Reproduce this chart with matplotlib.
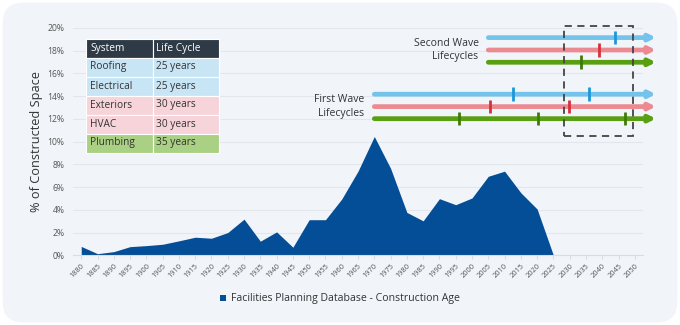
import matplotlib.pyplot as plt
import numpy as np
from matplotlib.patches import FancyBboxPatch, Rectangle

plt.rcParams['font.family'] = ['Open Sans', 'DejaVu Sans']

# construction age (% of constructed space per 5-year bucket)
years = list(range(1880, 2030, 5))
share = [0.78, 0.14, 0.32, 0.76, 0.85, 0.97, 1.27, 1.59, 1.5, 2.0,
         3.18, 1.24, 2.06, 0.71, 3.13, 3.13, 4.95, 7.4, 10.45, 7.65,
         3.77, 3.03, 4.98, 4.45, 5.04, 6.95, 7.4, 5.5, 4.07, 0.0]
tick_years = list(range(1880, 2055, 5))

# lifecycle arrows: start year, level (%), marker years
wave_names = ["Second Wave\nLifecycles", "First Wave\nLifecycles"]
wave_start = [2005, 1970]
wave_end = 2056.5
wave_levels = [[19.15, 18.06, 16.98], [14.17, 13.08, 12.02]]
wave_marks = [
    [[2044], [2039], [2033.5]],
    [[2012.5, 2036], [2005.5, 2029.7], [1996, 2020.4, 2047]],
]
line_colors = ["#74c3ec", "#eb8a91", "#58a011"]
mark_colors = ["#1c98d8", "#d6303b", "#3f7a08"]
box_x = [2028.4, 2049.3]
box_y = [10.5, 20.2]

# table
table_rows = [["System", "Life Cycle"],
              ["Roofing", "25 years"],
              ["Electrical", "25 years"],
              ["Exteriors", "30 years"],
              ["HVAC", "30 years"],
              ["Plumbing", "35 years"]]
row_colors = ["#2e3b46", "#c8e5f5", "#c8e5f5", "#f6d4d9", "#f6d4d9", "#a9d083"]

fig = plt.figure(figsize=(6.8, 3.25), dpi=100, facecolor="white")
fig.patches.append(FancyBboxPatch((0.004, 0.008), 0.992, 0.984,
                                  boxstyle="round,pad=0,rounding_size=0.03",
                                  transform=fig.transFigure, fc="#f1f4f9", ec="none",
                                  mutation_aspect=680 / 325, zorder=-5))

ax = fig.add_axes([0.107, 0.2145, 0.839, 0.6995])
ax.set_facecolor("none")
ax.fill_between(years, share, 0, color="#034e96", lw=0, zorder=2,
                label="Facilities Planning Database - Construction Age")
ax.set_xlim(1880 - 2.6, 2050 + 2.6)
ax.set_ylim(0, 20)
ax.set_yticks(range(0, 22, 2))
ax.set_yticklabels([f"{v}%" for v in range(0, 22, 2)], fontsize=6.2, color="#555")
ax.set_xticks(tick_years)
ax.set_xticklabels([str(y) for y in tick_years], rotation=45, ha="right",
                   rotation_mode="anchor", fontsize=5.3, color="#555")
ax.tick_params(axis="y", length=0, pad=6)
ax.tick_params(axis="x", length=3, color="#d8dde4", pad=2)
ax.grid(axis="y", color="#e2e7ee", lw=0.8, zorder=0)
for s in ["top", "right", "left"]:
    ax.spines[s].set_visible(False)
ax.spines["bottom"].set_color("#d8dde4")
ax.set_ylabel("% of Constructed Space", fontsize=9.2, color="#333", labelpad=3)

# lifecycle arrows
for w in range(2):
    for k in range(3):
        lvl = wave_levels[w][k]
        ax.annotate("", xy=(wave_end, lvl), xytext=(wave_start[w], lvl),
                    arrowprops=dict(arrowstyle="-|>", lw=3.4, color=line_colors[k],
                                    mutation_scale=9, shrinkA=0, shrinkB=0),
                    annotation_clip=False, zorder=4)
        for m in wave_marks[w][k]:
            ax.plot([m, m], [lvl - 0.6, lvl + 0.6], color=mark_colors[k], lw=2,
                    solid_capstyle="butt", zorder=5, clip_on=False)
    ax.text(wave_start[w] - 3, np.mean(wave_levels[w][:2]) - 0.55, wave_names[w],
            ha="right", va="center", fontsize=7.5, color="#333", linespacing=1.3)

ax.add_patch(Rectangle((box_x[0], box_y[0]), box_x[1] - box_x[0], box_y[1] - box_y[0],
                       fill=False, ec="#444", lw=1.3, ls=(0, (4, 3)), clip_on=False, zorder=6))

# table drawn in figure pixel coords
W, H = 680, 325
x0, x1, x2 = 86, 152.5, 218.5
y_top, row_h = 38.5, 19.0
for i, row in enumerate(table_rows):
    yb = y_top + row_h * i
    for xa, xb in [(x0, x1), (x1, x2)]:
        fig.patches.append(Rectangle((xa / W, 1 - (yb + row_h) / H), (xb - xa) / W, row_h / H,
                                     transform=fig.transFigure, fc=row_colors[i],
                                     ec="white", lw=0.8, zorder=5))
    tc = "white" if i == 0 else "#333"
    fig.text((x0 + 4) / W, 1 - (yb + row_h / 2) / H, row[0], fontsize=7.3, color=tc,
             va="center", ha="left", zorder=6)
    fig.text((x1 + 4) / W, 1 - (yb + row_h / 2) / H, row[1], fontsize=7.3, color=tc,
             va="center", ha="left", zorder=6)

ax.legend(loc="center", bbox_to_anchor=(0.468, -0.192), frameon=False, fontsize=7.6,
          handlelength=0.55, handleheight=0.55, handletextpad=0.5, labelcolor="#333",
          borderpad=0)

fig.savefig("out.png", dpi=100, facecolor="white")
